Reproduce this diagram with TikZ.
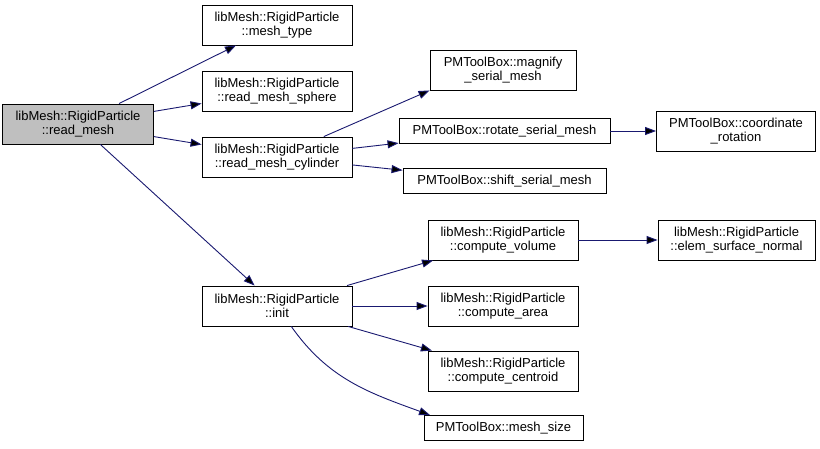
\documentclass[tikz,border=0pt]{standalone}
\usepackage{fontspec}
\setmainfont{Liberation Sans}
\usetikzlibrary{arrows.meta}

\definecolor{callblue}{HTML}{191970}
\definecolor{rootgray}{HTML}{BFBFBF}
\tikzset{
  fn/.style={draw=black, fill=white, line width=0.9pt, align=center,
    minimum height=40pt, inner sep=0pt, font=\fontsize{13}{14}\selectfont},
  oneline/.style={minimum height=25pt},
  call/.style={draw=callblue, line width=0.9pt,
    -{Triangle[length=11pt, width=8pt]}}
}

\begin{document}
\begin{tikzpicture}[x=1pt, y=-1pt]
\useasboundingbox (0,0) rectangle (820,449);
\begin{scope}[every node/.style={fn}]
\node[fill=rootgray, minimum width=151pt] (root) at (78,124) {libMesh::RigidParticle\\::read\_mesh};
\node[minimum width=150pt] (mtype) at (277,25) {libMesh::RigidParticle\\::mesh\_type};
\node[minimum width=150pt] (sphere) at (277,91) {libMesh::RigidParticle\\::read\_mesh\_sphere};
\node[minimum width=150pt] (cyl) at (277,157) {libMesh::RigidParticle\\::read\_mesh\_cylinder};
\node[minimum width=150pt] (init) at (277,306) {libMesh::RigidParticle\\::init};
\node[minimum width=146pt] (mag) at (503,70) {PMToolBox::magnify\\\_serial\_mesh};
\node[oneline, minimum width=211pt] (rot) at (504.5,131) {PMToolBox::rotate\_serial\_mesh};
\node[oneline, minimum width=203pt] (shift) at (504.5,181) {PMToolBox::shift\_serial\_mesh};
\node[minimum width=159pt] (coord) at (736,131) {PMToolBox::coordinate\\\_rotation};
\node[minimum width=150pt] (vol) at (503,240) {libMesh::RigidParticle\\::compute\_volume};
\node[minimum width=157pt] (elem) at (736.5,240) {libMesh::RigidParticle\\::elem\_surface\_normal};
\node[minimum width=150pt] (area) at (503,306) {libMesh::RigidParticle\\::compute\_area};
\node[minimum width=150pt] (cent) at (503,371) {libMesh::RigidParticle\\::compute\_centroid};
\node[oneline, minimum width=159pt] (msize) at (503.5,428) {PMToolBox::mesh\_size};
\end{scope}
\draw [call] (root) edge (mtype);
\draw [call] (root) edge (sphere);
\draw [call] (root) edge (cyl);
\draw [call] (root) edge (init);
\draw [call] (cyl) edge (mag.south west);
\draw [call] (cyl) edge (rot);
\draw [call] (cyl) edge (shift);
\draw [call] (rot) edge (coord);
\draw [call] (init) edge (vol);
\draw [call] (init) edge (area);
\draw [call] (init) edge (cent);
\draw [call] (init) edge[out=-55, in=160] (msize.170);
\draw [call] (vol) edge (elem);
\end{tikzpicture}
\end{document}
